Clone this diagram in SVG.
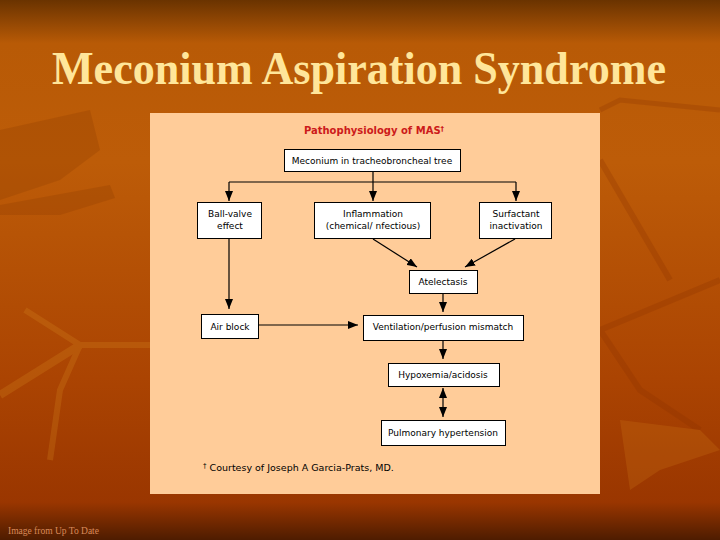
<svg xmlns="http://www.w3.org/2000/svg" width="720" height="540" viewBox="0 0 720 540">
<defs>
<linearGradient id="bg" x1="0" y1="0" x2="0" y2="1">
<stop offset="0" stop-color="#6a3300"/>
<stop offset="0.08" stop-color="#b85a06"/>
<stop offset="0.3" stop-color="#bd5c08"/>
<stop offset="0.7" stop-color="#ab4402"/>
<stop offset="0.93" stop-color="#9a3600"/>
<stop offset="1" stop-color="#4e1c00"/>
</linearGradient>
<marker id="ah" viewBox="0 0 10 8" refX="10" refY="4" markerWidth="10" markerHeight="8" markerUnits="userSpaceOnUse" orient="auto-start-reverse">
<path d="M0,0 L10,4 L0,8 Z" fill="#000"/>
</marker>
</defs>
<style>
.box{fill:#fff;stroke:#000;stroke-width:1}
.t{font-family:"DejaVu Sans",sans-serif;font-size:9px;fill:#000;text-anchor:middle}
.ln{stroke:#000;stroke-width:1.2;fill:none}
</style>
<rect width="720" height="540" fill="url(#bg)"/>
<g opacity="0.25">
<path d="M0,130 L90,110 L100,150 L60,180 L0,200 Z" fill="#8a3a00"/>
<path d="M0,205 L110,185 L115,198 L60,215 L0,215 Z" fill="#8a3a00"/>
<path d="M25,310 L80,345 L150,345 M80,345 L60,390 L50,460" stroke="#d88a20" stroke-width="6" fill="none"/>
<path d="M0,395 L80,345" stroke="#d88a20" stroke-width="8" fill="none"/>
<path d="M600,160 L670,280 M600,330 L720,280 M600,330 L640,390 L700,430" stroke="#8a3000" stroke-width="6" fill="none"/>
<path d="M620,420 L700,430 L720,450 L660,470 L630,490 Z" fill="#d07a18"/>
<path d="M600,110 L620,100 L720,110" stroke="#8a3000" stroke-width="5" fill="none"/>
</g>
<text x="52" y="84" textLength="614" lengthAdjust="spacingAndGlyphs" font-family="Liberation Serif, serif" font-weight="bold" font-size="47" fill="#ffe69a">Meconium Aspiration Syndrome</text>
<text x="8" y="534" font-family="Liberation Serif, serif" font-size="9.5" fill="#d98a5a">Image from Up To Date</text>
<rect x="150" y="113" width="450" height="381" fill="#ffcc99"/>
<text x="374" y="134" text-anchor="middle" font-family="DejaVu Sans, sans-serif" font-weight="bold" font-size="10" fill="#cc1a1a">Pathophysiology of MAS<tspan font-size="7" dy="-3">†</tspan></text>
<g id="connectors">
<path class="ln" d="M373,171 V182 M229,182 H516"/>
<path class="ln" d="M229,182 V201" marker-end="url(#ah)"/>
<path class="ln" d="M373,182 V201" marker-end="url(#ah)"/>
<path class="ln" d="M516,182 V201" marker-end="url(#ah)"/>
<path class="ln" d="M229,239 V309" marker-end="url(#ah)"/>
<path class="ln" d="M373,239 L417,267" marker-end="url(#ah)"/>
<path class="ln" d="M515,239 L465,267" marker-end="url(#ah)"/>
<path class="ln" d="M443,293 V312" marker-end="url(#ah)"/>
<path class="ln" d="M258,325 H358" marker-end="url(#ah)"/>
<path class="ln" d="M443,340 V359" marker-end="url(#ah)"/>
<path class="ln" d="M443,388 V417" marker-start="url(#ah)" marker-end="url(#ah)"/>
</g>
<g id="n1"><rect class="box" x="284.5" y="149.5" width="176" height="22"/><text class="t" x="372" y="163.5">Meconium in tracheobroncheal tree</text></g>
<g id="n2"><rect class="box" x="197.5" y="202.5" width="64" height="36"/><text class="t" x="230" y="217">Ball-valve</text><text class="t" x="230" y="229">effect</text></g>
<g id="n3"><rect class="box" x="314.5" y="202.5" width="116" height="36"/><text class="t" x="373" y="217">Inflammation</text><text class="t" x="373" y="229">(chemical/ nfectious)</text></g>
<g id="n4"><rect class="box" x="479.5" y="202.5" width="72" height="36"/><text class="t" x="516" y="217">Surfactant</text><text class="t" x="516" y="229">inactivation</text></g>
<g id="n5"><rect class="box" x="409.5" y="270.5" width="68" height="23"/><text class="t" x="443" y="285">Atelectasis</text></g>
<g id="n6"><rect class="box" x="201.5" y="314.5" width="57" height="24"/><text class="t" x="230" y="330">Air block</text></g>
<g id="n7"><rect class="box" x="363.5" y="315.5" width="160" height="25"/><text class="t" x="443" y="330">Ventilation/perfusion mismatch</text></g>
<g id="n8"><rect class="box" x="388.5" y="363.5" width="111" height="23"/><text class="t" x="443" y="378">Hypoxemia/acidosis</text></g>
<g id="n9"><rect class="box" x="381.5" y="420.5" width="124" height="25"/><text class="t" x="443" y="436">Pulmonary hypertension</text></g>
<text x="203" y="471" font-family="DejaVu Sans, sans-serif" font-size="9.5" fill="#000"><tspan font-size="7" dy="-3">†</tspan><tspan dy="3"> Courtesy of Joseph A Garcia-Prats, MD.</tspan></text>
</svg>
